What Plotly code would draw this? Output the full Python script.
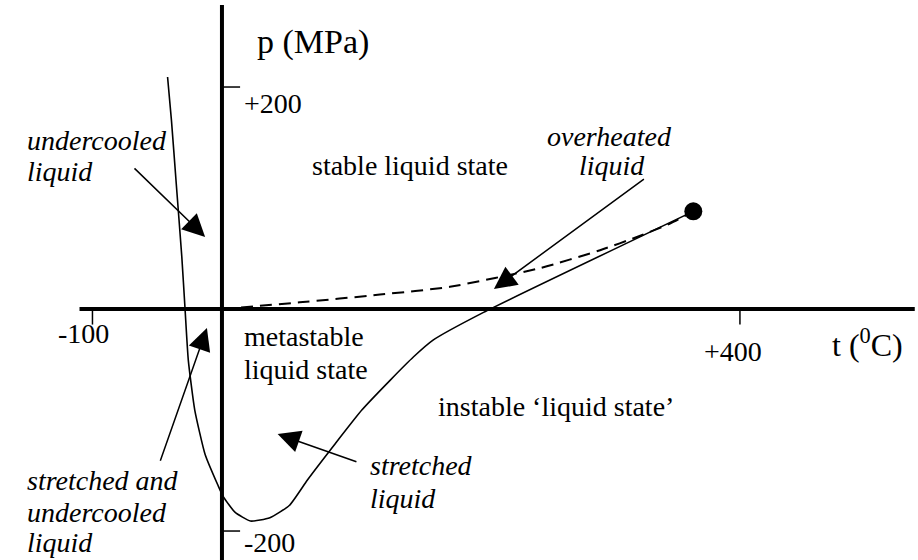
import plotly.graph_objects as go

# ---- data (t in deg C, p in MPa) ----
solid_t = [-42, -39, -35.5, -31, -28.5, -26, -21, -13, -3, 1, 10, 22, 37, 52, 66, 87, 108, 130, 148, 163, 202, 364]
solid_p = [209, 170, 116, 47, 0, -46, -91, -131, -159, -169, -183, -191, -188, -177, -154, -122, -91, -64, -43, -28, -3, 88]

dash_t = [0, 60, 122, 176, 246, 292, 323, 346, 364]
dash_p = [0, 6, 13, 20, 37, 53, 66, 77, 88]

crit_t = [364]
crit_p = [88]

x_tick_vals = [-100, 400]
x_tick_text = ["-100", "+400"]
y_tick_vals = [200, -200]
y_tick_text = ["+200", "-200"]

x_axis_extent = [-110, 535]
y_axis_extent = [-226, 274]

# arrows: (tail_t, tail_p, tip_t, tip_p)
arrows = [
    (327, 118, 210, 18),      # overheated liquid
    (-68.7, 128, -13, 65),    # undercooled liquid
    (-48, -138, -11.6, -17),  # stretched and undercooled liquid
    (105, -138, 43, -112.6),  # stretched liquid
]

FONT = "Liberation Serif"
SIZE = 28

fig = go.Figure()

# axes lines
fig.add_trace(go.Scatter(x=x_axis_extent, y=[0, 0], mode="lines",
                         line=dict(color="black", width=4), hoverinfo="skip"))
fig.add_trace(go.Scatter(x=[0, 0], y=y_axis_extent, mode="lines",
                         line=dict(color="black", width=4), hoverinfo="skip"))

# curves
fig.add_trace(go.Scatter(x=solid_t, y=solid_p, mode="lines",
                         line=dict(color="black", width=1.6, shape="spline", smoothing=0.5)))
fig.add_trace(go.Scatter(x=dash_t, y=dash_p, mode="lines",
                         line=dict(color="black", width=2, dash="12px,7px", shape="spline", smoothing=0.6)))
fig.add_trace(go.Scatter(x=crit_t, y=crit_p, mode="markers",
                         marker=dict(color="black", size=18)))

# tick marks
for v in x_tick_vals:
    fig.add_shape(type="line", x0=v, x1=v, y0=0, y1=-14, xref="x", yref="y",
                  line=dict(color="black", width=1.5))
for v in y_tick_vals:
    fig.add_shape(type="line", x0=0, x1=14, y0=v, y1=v, xref="x", yref="y",
                  line=dict(color="black", width=1.5))

ann = []
# tick labels
ann.append(dict(x=-106.6, y=-21.6, text=x_tick_text[0]))
ann.append(dict(x=394.6, y=-38.7, text=x_tick_text[1]))
ann.append(dict(x=15.4, y=185.6, text=y_tick_text[0], xanchor="left"))
ann.append(dict(x=15.4, y=-210.0, text=y_tick_text[1], xanchor="left"))
# axis titles
ann.append(dict(x=25.5, y=240.5, text="p (MPa)", size=34, xanchor="left"))
ann.append(dict(x=498.5, y=-30.6, text="t (<sup>0</sup>C)", size=32))
# region labels
ann.append(dict(x=145.2, y=129.7, text="stable liquid state"))
ann.append(dict(x=15.4, y=-24.3, text="metastable", xanchor="left"))
ann.append(dict(x=15.4, y=-54.1, text="liquid state", xanchor="left"))
ann.append(dict(x=165.4, y=-87.4, text="instable \u2018liquid state\u2019", xanchor="left"))
# italic labels
ann.append(dict(x=299.6, y=155.0, text="overheated", italic=True))
ann.append(dict(x=301.2, y=129.7, text="liquid", italic=True))
ann.append(dict(x=-152.1, y=151.4, text="undercooled", xanchor="left", italic=True))
ann.append(dict(x=-152.1, y=124.3, text="liquid", xanchor="left", italic=True))
ann.append(dict(x=-152.1, y=-154.1, text="stretched and", xanchor="left", italic=True))
ann.append(dict(x=-152.1, y=-182.9, text="undercooled", xanchor="left", italic=True))
ann.append(dict(x=-152.1, y=-210.5, text="liquid", xanchor="left", italic=True))
ann.append(dict(x=112.7, y=-141.4, text="stretched", xanchor="left", italic=True))
ann.append(dict(x=112.7, y=-170.3, text="liquid", xanchor="left", italic=True))

annotations = []
for a in ann:
    size = a.pop("size", SIZE)
    ital = a.pop("italic", False)
    d = dict(xref="x", yref="y", showarrow=False,
             font=dict(family=FONT, size=size, color="black",
                       style="italic" if ital else "normal"))
    d.update(a)
    annotations.append(d)

for (tt, tp, ht, hp) in arrows:
    annotations.append(dict(x=ht, y=hp, ax=tt, ay=tp, xref="x", yref="y",
                            axref="x", ayref="y", text="", showarrow=True,
                            arrowhead=2, arrowsize=3, arrowwidth=1.5,
                            arrowcolor="black"))

fig.update_layout(
    width=918, height=560,
    margin=dict(l=0, r=0, t=0, b=0),
    paper_bgcolor="white", plot_bgcolor="white",
    showlegend=False,
    annotations=annotations,
    xaxis=dict(range=[-171.4, 537.5], visible=False, fixedrange=True),
    yaxis=dict(range=[-226.1, 278.4], visible=False, fixedrange=True),
)

fig.write_html("out.html")
